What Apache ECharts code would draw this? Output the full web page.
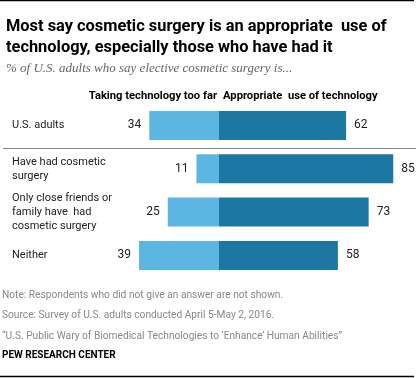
<!DOCTYPE html>
<html><head><meta charset="utf-8">
<script src="https://cdn.jsdelivr.net/npm/echarts@6/dist/echarts.min.js"></script>
<style>html,body{margin:0;padding:0;background:#fff}#c{width:420px;height:378px}</style>
</head><body><div id="c"></div>
<script>
const categories = ["U.S. adults", "Have had cosmetic\nsurgery", "Only close friends or\nfamily have  had\ncosmetic surgery", "Neither"];
const tooFar = [34, 11, 25, 39];
const appropriate = [62, 85, 73, 58];
const seriesNames = ["Taking technology too far", "Appropriate  use of technology"];

const chart = echarts.init(document.getElementById('c'));
const F = 'Roboto, "Noto Sans", sans-serif';
chart.setOption({
  animation: false,
  backgroundColor: '#fff',
  title: [
    {text: 'Most say cosmetic surgery is an appropriate  use of\ntechnology, especially those who have had it', left: 1, top: 11,
     textStyle: {fontFamily: F, fontWeight: 'bold', fontSize: 16.4, lineHeight: 21, color: '#000'}},
    {text: '% of U.S. adults who say elective cosmetic surgery is...', left: 1, top: 57,
     textStyle: {fontFamily: '"Liberation Serif", "DejaVu Serif", serif', fontStyle: 'italic', fontWeight: 'normal', fontSize: 13, color: '#666'}}
  ],
  grid: {left: 96, width: 317.75, top: 103.8, height: 173.3, containLabel: false},
  xAxis: {type: 'value', min: -60, max: 95, show: false},
  yAxis: {type: 'category', inverse: true, data: categories,
    axisLine: {show: false}, axisTick: {show: false}, splitLine: {show: false},
    axisLabel: {align: 'left', margin: 84, fontFamily: F, fontSize: 11, color: '#222', lineHeight: 14}},
  series: [
    {name: seriesNames[0], type: 'bar', stack: 's', barWidth: 29,
     data: tooFar.map(v => -v), itemStyle: {color: '#5cb6e1'},
     label: {show: true, position: 'left', distance: 8, formatter: p => Math.abs(p.value), fontFamily: F, fontSize: 12, color: '#222'}},
    {name: seriesNames[1], type: 'bar', stack: 's', barWidth: 29,
     data: appropriate, itemStyle: {color: '#1c77a2'},
     label: {show: true, position: 'right', distance: 8, fontFamily: F, fontSize: 12, color: '#222'}}
  ],
  graphic: [
    {type: 'line', shape: {x1: 0, y1: 0.5, x2: 414, y2: 0.5}, style: {stroke: '#000', lineWidth: 1.5}},
    {type: 'line', shape: {x1: 3, y1: 148.5, x2: 416, y2: 148.5}, style: {stroke: '#888', lineWidth: 1}},
    {type: 'text', x: 217, y: 96, style: {text: seriesNames[0], align: 'right', verticalAlign: 'middle', font: 'bold 11.2px ' + F, fill: '#000'}},
    {type: 'text', x: 223, y: 96, style: {text: seriesNames[1], align: 'left', verticalAlign: 'middle', font: 'bold 11.2px ' + F, fill: '#000'}},
    {type: 'text', x: 2, y: 295, style: {text: 'Note: Respondents who did not give an answer are not shown.', verticalAlign: 'middle', font: '10.2px ' + F, fill: '#888'}},
    {type: 'text', x: 2, y: 315, style: {text: 'Source: Survey of U.S. adults conducted April 5-May 2, 2016.', verticalAlign: 'middle', font: '10.2px ' + F, fill: '#888'}},
    {type: 'text', x: 2, y: 336, style: {text: '\u201cU.S. Public Wary of Biomedical Technologies to \u2018Enhance\u2019 Human Abilities\u201d', verticalAlign: 'middle', font: '10.2px ' + F, fill: '#888'}},
    {type: 'text', x: 2, y: 355, style: {text: 'PEW RESEARCH CENTER', verticalAlign: 'middle', font: 'bold 10px ' + F, fill: '#000'}},
    {type: 'line', shape: {x1: 0, y1: 376.5, x2: 414, y2: 376.5}, style: {stroke: '#000', lineWidth: 1.5}}
  ]
});
</script></body></html>
